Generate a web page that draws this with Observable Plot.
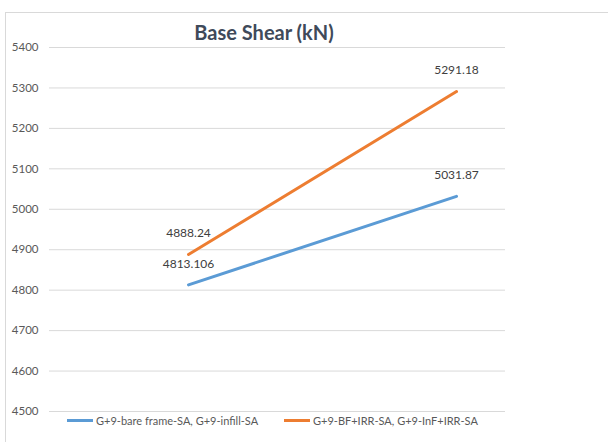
<!DOCTYPE html>
<html><head><meta charset="utf-8">
<script src="https://cdn.jsdelivr.net/npm/d3@7"></script>
<script src="https://cdn.jsdelivr.net/npm/@observablehq/plot@0.6"></script>
<style>
html,body{margin:0;padding:0;background:#fff;overflow:hidden;width:608px;height:442px;}
#wrap{position:relative;width:608px;height:442px;font-family:Lato,"Liberation Sans",sans-serif;}
#frame{position:absolute;left:5px;top:12px;width:640px;height:460px;border:1px solid #D9D9D9;box-sizing:border-box;}
#title{position:absolute;left:164px;width:200px;top:20px;text-align:center;font-family:Lato,"Liberation Sans",sans-serif;font-weight:bold;font-size:20px;color:#3F4A5A;}
#legend{position:absolute;top:414px;left:0;width:608px;font-size:11px;color:#595959;}
.item{position:absolute;display:flex;align-items:center;white-space:nowrap;}
.sw{display:inline-block;width:26px;height:3px;margin-right:3px;}
#chart{position:absolute;left:0;top:0;}
</style></head><body>
<div id="wrap">
<div id="frame"></div>
<div id="chart"></div>
<div id="title"></div>
<div id="legend"></div>
</div>
<script>
const categories = ["1", "2"];
const seriesNames = ["G+9-bare frame-SA, G+9-infill-SA", "G+9-BF+IRR-SA, G+9-InF+IRR-SA"];
const seriesA = [4813.106, 5031.87];
const seriesB = [4888.24, 5291.18];
const labelsA = ["4813.106", "5031.87"];
const labelsB = ["4888.24", "5291.18"];
const yTicks = [4500, 4600, 4700, 4800, 4900, 5000, 5100, 5200, 5300, 5400];
const colors = ["#5B9BD5", "#ED7D31"];
const titleText = "Base Shear (kN)";

const data = [];
categories.forEach((c, i) => {
  data.push({cat: c, value: seriesA[i], series: seriesNames[0], label: labelsA[i]});
  data.push({cat: c, value: seriesB[i], series: seriesNames[1], label: labelsB[i]});
});

const chart = Plot.plot({
  width: 608,
  height: 442,
  marginLeft: 49,
  marginRight: 103,
  marginTop: 47,
  marginBottom: 31,
  style: {fontFamily: 'Lato,"Liberation Sans",sans-serif', fontSize: "11.5px", color: "#595959", background: "transparent"},
  x: {type: "point", domain: categories, range: [188, 456], padding: 0, axis: null},
  y: {domain: [4500, 5400], ticks: yTicks},
  color: {domain: seriesNames, range: colors},
  marks: [
    Plot.ruleY(yTicks, {stroke: "#D9D9D9", strokeWidth: 1}),
    Plot.axisY({ticks: yTicks, tickSize: 0, tickPadding: 11, label: null, tickFormat: d => String(d)}),
    Plot.line(data, {x: "cat", y: "value", z: "series", stroke: "series", strokeWidth: 3, strokeLinecap: "round"}),
    Plot.text(data, {x: "cat", y: "value", text: "label", dy: -21, fill: "#404040", fontSize: 12})
  ]
});
document.getElementById("chart").appendChild(chart);
document.getElementById("title").textContent = titleText;

const legend = document.getElementById("legend");
const lefts = [67, 284];
seriesNames.forEach((n, i) => {
  const it = document.createElement("div");
  it.className = "item";
  it.style.left = lefts[i] + "px";
  const sw = document.createElement("span");
  sw.className = "sw";
  sw.style.background = colors[i];
  const t = document.createElement("span");
  t.textContent = n;
  it.appendChild(sw); it.appendChild(t);
  legend.appendChild(it);
});
</script>
</body></html>
